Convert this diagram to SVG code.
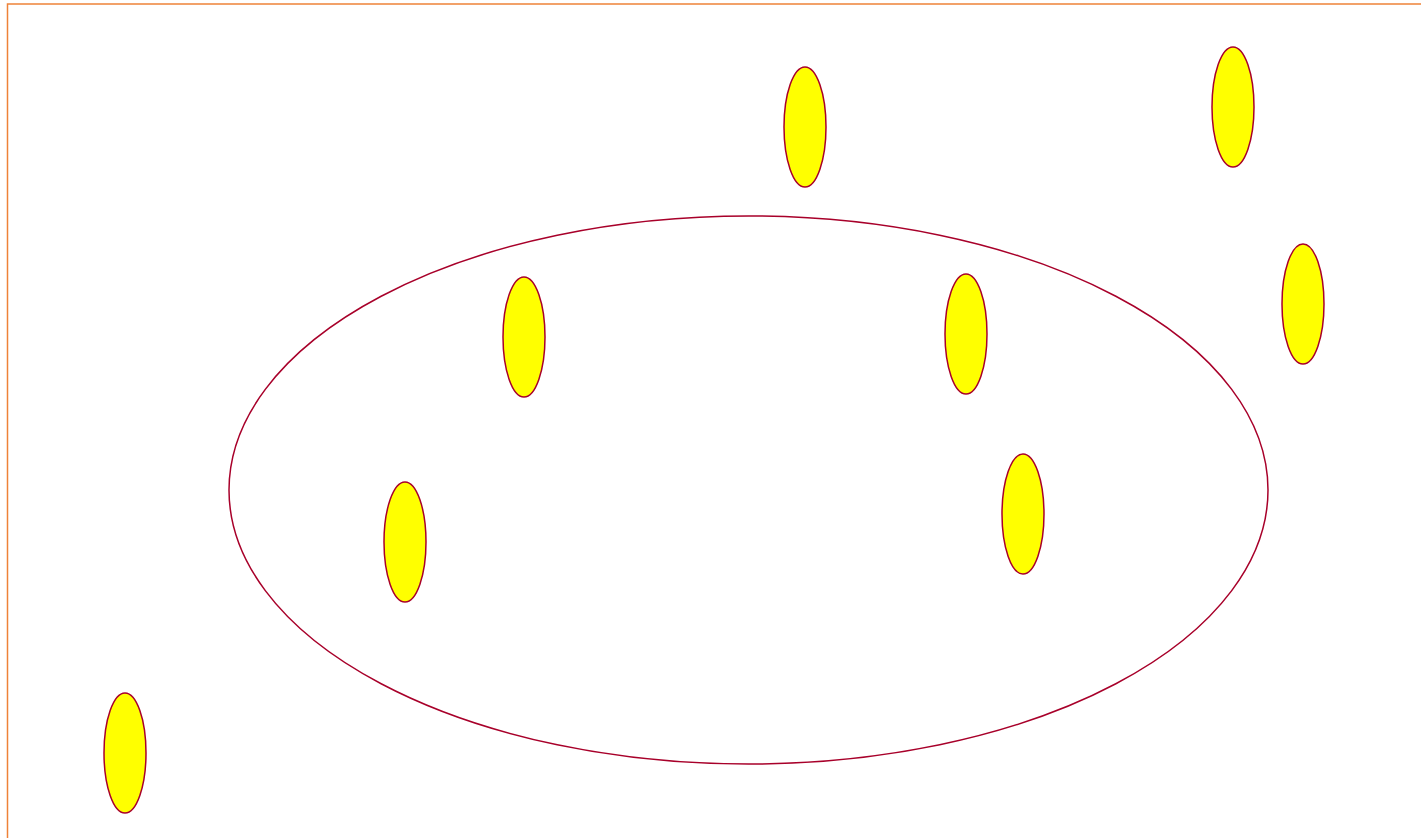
<svg xmlns="http://www.w3.org/2000/svg" width="1421" height="838" viewBox="0 0 1421 838">
<style>
.frame{fill:none;stroke:#EE8238;stroke-width:1.5}
.big{fill:none;stroke:#A8002A;stroke-width:1.5}
.node{fill:#FFFF00;stroke:#A8002A;stroke-width:1.5}
</style>
<rect width="1421" height="838" fill="#fff"/>
<path class="frame" d="M7.5,838 V4 H1421"/>
<g id="region"><ellipse class="big" cx="748.5" cy="490" rx="519.5" ry="274"/></g>
<g id="n1"><ellipse class="node" cx="805" cy="127" rx="21" ry="60"/></g>
<g id="n2"><ellipse class="node" cx="1233" cy="107" rx="21" ry="60"/></g>
<g id="n3"><ellipse class="node" cx="1303" cy="304" rx="21" ry="60"/></g>
<g id="n4"><ellipse class="node" cx="524" cy="337" rx="21" ry="60"/></g>
<g id="n5"><ellipse class="node" cx="966" cy="334" rx="21" ry="60"/></g>
<g id="n6"><ellipse class="node" cx="1023" cy="514" rx="21" ry="60"/></g>
<g id="n7"><ellipse class="node" cx="405" cy="542" rx="21" ry="60"/></g>
<g id="n8"><ellipse class="node" cx="125" cy="753" rx="21" ry="60"/></g>
<g id="connectors"></g>
</svg>
